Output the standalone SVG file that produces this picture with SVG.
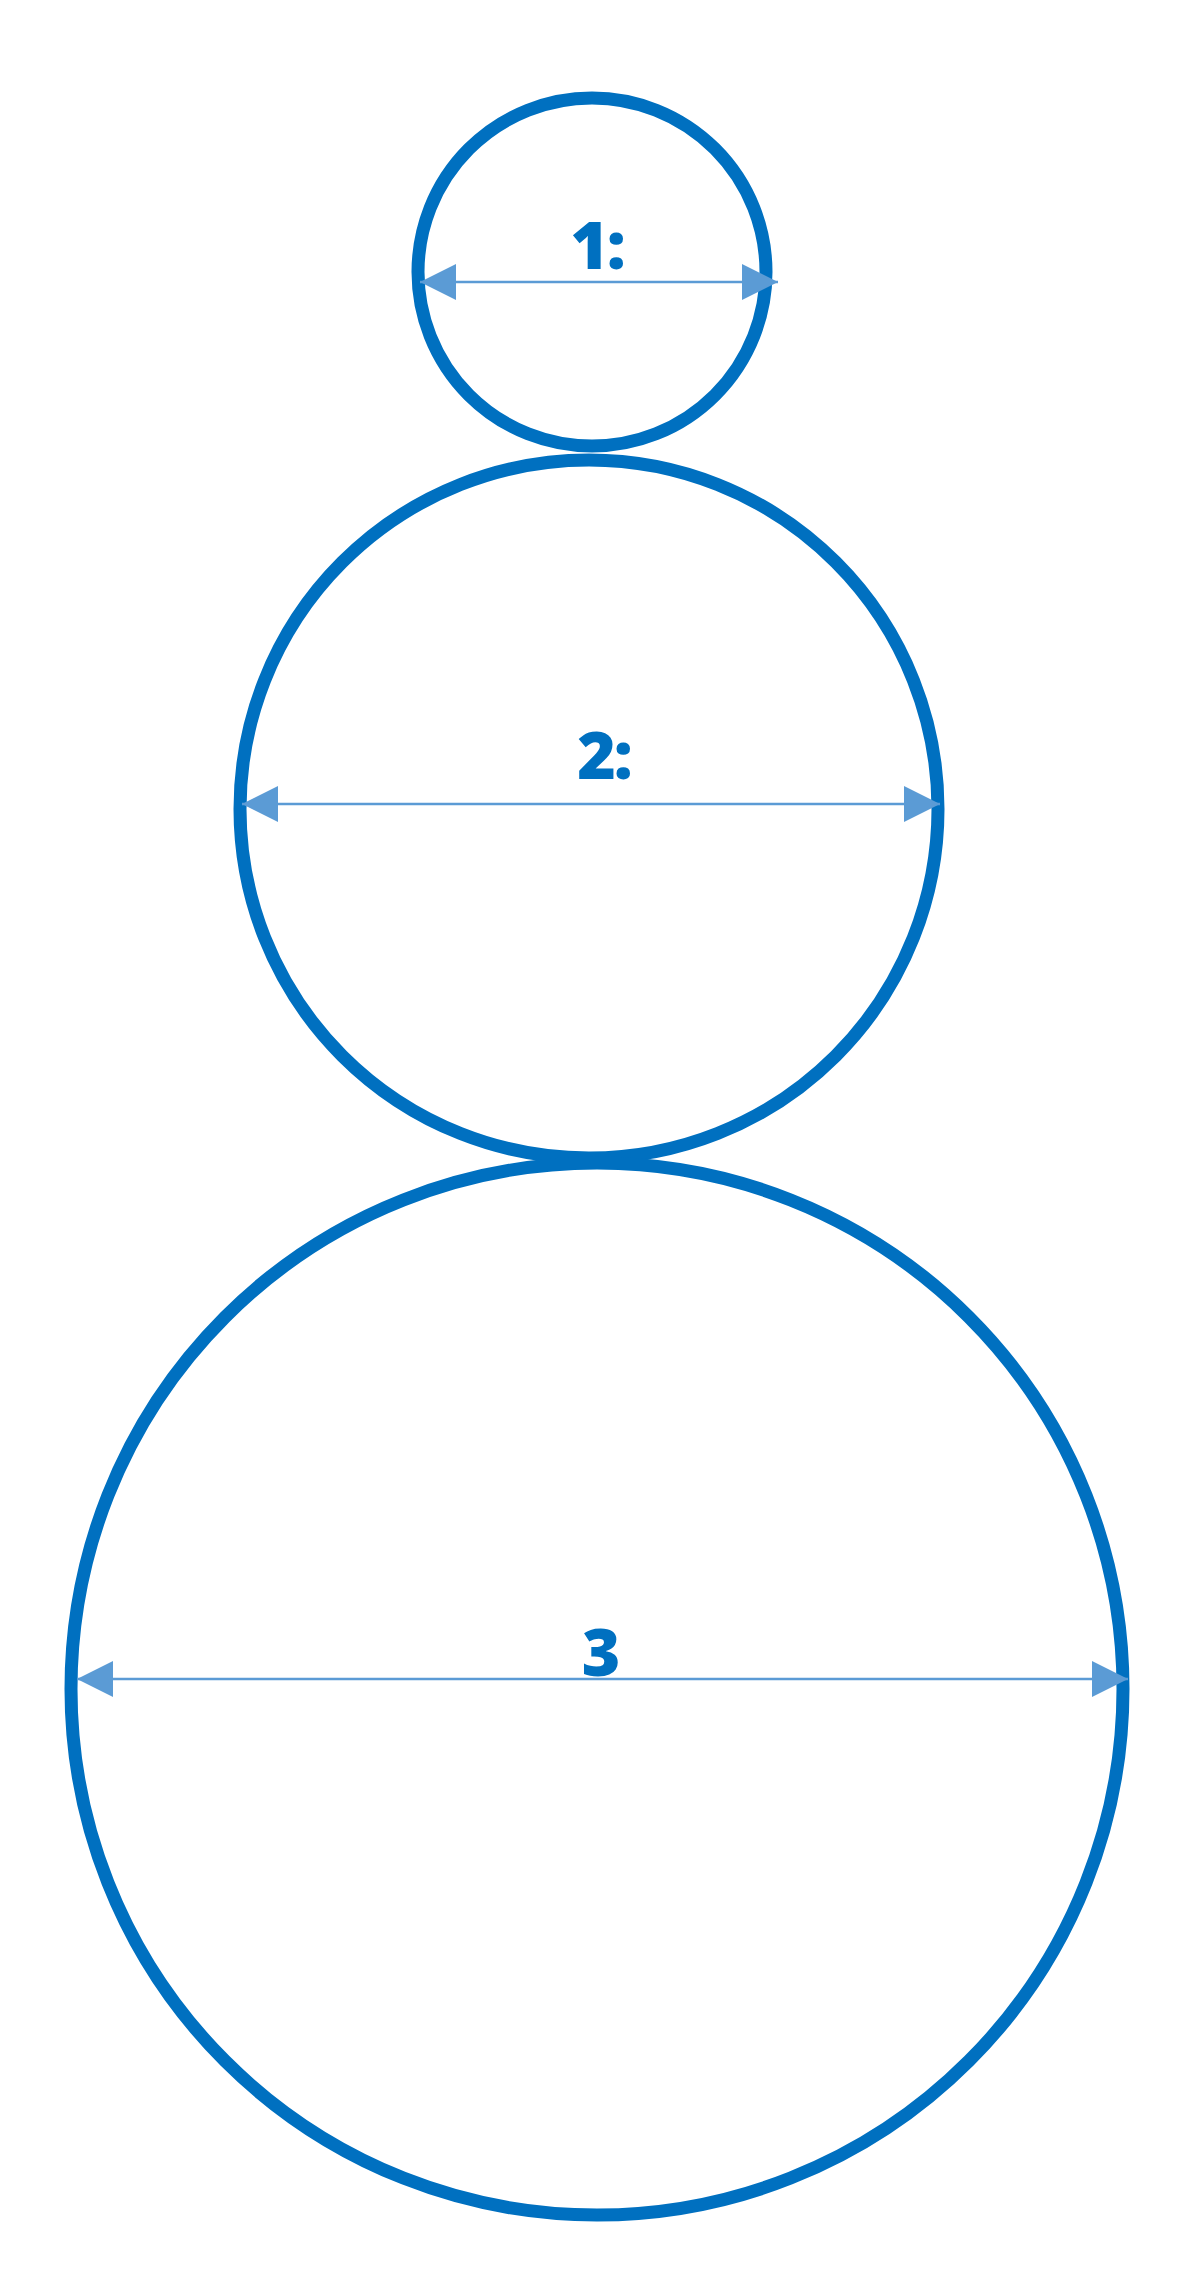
<svg xmlns="http://www.w3.org/2000/svg" width="1200" height="2292" viewBox="0 0 1200 2292">
  <style>
    .ring { fill: none; stroke: #0070C0; stroke-width: 13; }
    .dim { stroke: #5B9BD5; stroke-width: 2.5; fill: none; marker-start: url(#arr); marker-end: url(#arr); }
    .lbl { font-family: "Open Sans", "Liberation Sans", sans-serif; font-weight: 800; font-size: 66px; fill: #0070C0; text-anchor: middle; letter-spacing: -2px; }
  </style>
  <defs>
    <marker id="arr" viewBox="0 0 36 36" refX="36" refY="18" markerWidth="36" markerHeight="36" markerUnits="userSpaceOnUse" orient="auto-start-reverse">
      <path d="M0,0 L36,18 L0,36 Z" fill="#5B9BD5"/>
    </marker>
  </defs>
  <rect width="1200" height="2292" fill="#FFFFFF"/>
  <g id="circle1">
    <circle class="ring" cx="592" cy="272" r="174"/>
    <text class="lbl" x="597" y="269">1:</text>
  </g>
  <g id="circle2">
    <circle class="ring" cx="589" cy="809" r="349"/>
    <text class="lbl" x="604" y="779">2:</text>
  </g>
  <g id="circle3">
    <circle class="ring" cx="597" cy="1689" r="526"/>
    <text class="lbl" x="600" y="1676">3</text>
  </g>
  <g id="connectors">
    <line class="dim" x1="420" y1="282" x2="778" y2="282"/>
    <line class="dim" x1="242" y1="804" x2="940" y2="804"/>
    <line class="dim" x1="77" y1="1679" x2="1128" y2="1679"/>
  </g>
</svg>
